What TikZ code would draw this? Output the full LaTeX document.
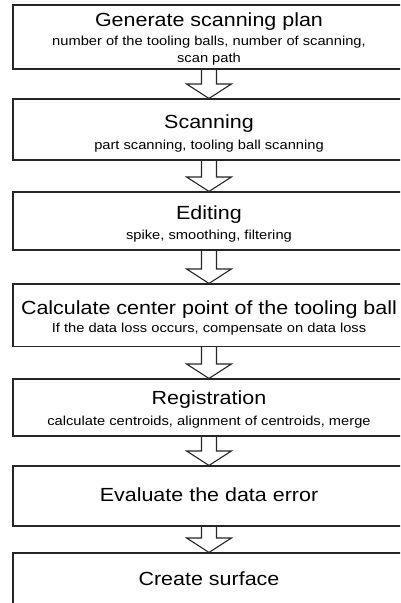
\documentclass[tikz,border=0pt]{standalone}
\usepackage{fontspec}
\setmainfont{Liberation Sans}[FakeStretch=1.13]
\newcommand{\flowarrow}[2]{%
  \draw[flowarr] ([xshift=-7.5pt]#1.south) -- ([xshift=-7.5pt,yshift=14.5pt]#2.north)
    -- ([xshift=-22.5pt,yshift=14.5pt]#2.north) -- (#2.north)
    -- ([xshift=22.5pt,yshift=14.5pt]#2.north) -- ([xshift=7.5pt,yshift=14.5pt]#2.north)
    -- ([xshift=7.5pt]#1.south);}
\begin{document}
\begin{tikzpicture}[x=1pt,y=-1pt,
  box/.style={draw=black!85, line width=1.1pt, minimum width=392pt, inner sep=0pt},
  title/.style={anchor=base, inner sep=0pt, font=\fontsize{19}{22}\selectfont},
  sub/.style={anchor=base, inner sep=0pt, font=\fontsize{13}{16}\selectfont},
  flowarr/.style={draw=black!85, line width=1.1pt, line join=miter}]
\useasboundingbox (0,0) rectangle (400,603);
\clip (0,0) rectangle (400,603);
% boxes
\node[box, minimum height=64pt] (b1) at (209,37) {};
\node[box, minimum height=61pt] (b2) at (209,129.5) {};
\node[box, minimum height=58pt] (b3) at (209,221) {};
\node[box, minimum height=62.5pt] (b4) at (209,315.25) {};
\node[box, minimum height=57pt] (b5) at (209,407.5) {};
\node[box, minimum height=60pt] (b6) at (209,496) {};
\node[box, minimum height=67pt] (b7) at (209,586.5) {};
% texts
\node[title] (t1) at (209,26.7) {Generate scanning plan};
\node[sub] (s1a) at (209,45.3) {number of the tooling balls, number of scanning,};
\node[sub] (s1b) at (209,62) {scan path};
\node[title] (t2) at (209,128.3) {Scanning};
\node[sub] (s2) at (209,149) {part scanning, tooling ball scanning};
\node[title] (t3) at (209,219.3) {Editing};
\node[sub] (s3) at (209,239.3) {spike, smoothing, filtering};
\node[title] (t4) at (209,314) {Calculate center point of the tooling ball};
\node[sub] (s4) at (209,332.7) {If the data loss occurs, compensate on data loss};
\node[title] (t5) at (209,404) {Registration};
\node[sub] (s5) at (209,425) {calculate centroids, alignment of centroids, merge};
\node[title] (t6) at (209,501) {Evaluate the data error};
\node[title] (t7) at (209,585) {Create surface};
% arrows
\flowarrow{b1}{b2}
\flowarrow{b2}{b3}
\flowarrow{b3}{b4}
\flowarrow{b4}{b5}
\flowarrow{b5}{b6}
\flowarrow{b6}{b7}
\end{tikzpicture}
\end{document}
